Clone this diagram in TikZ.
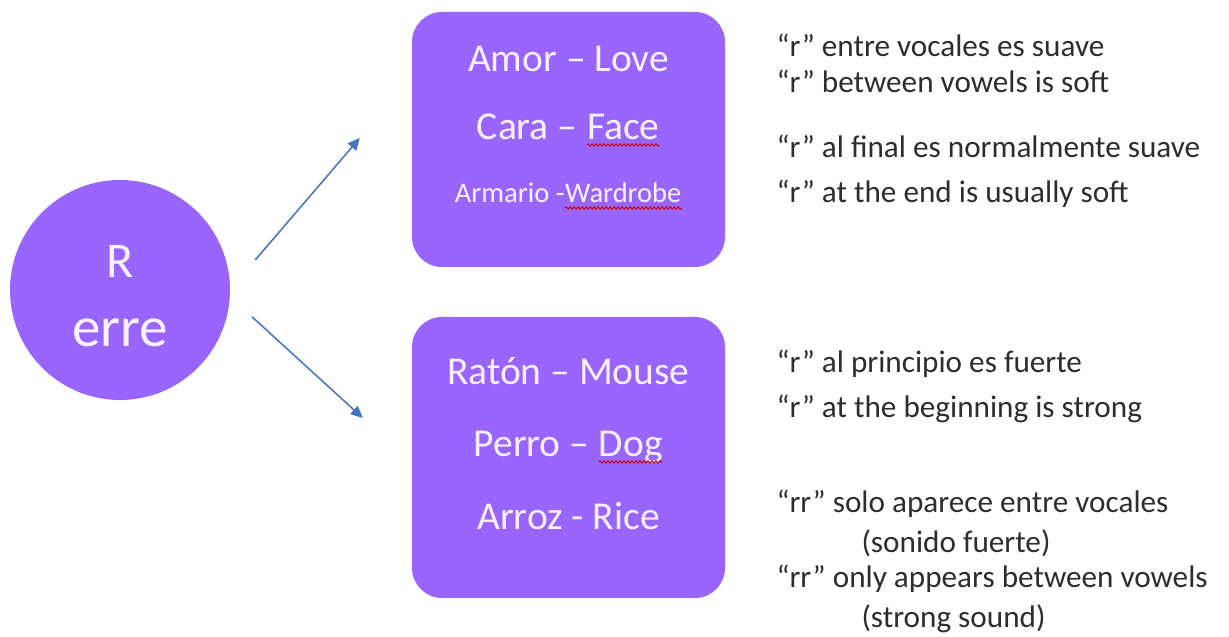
\documentclass[tikz,border=0pt]{standalone}
\usepackage{fontspec}
\setmainfont{Carlito}
\usetikzlibrary{arrows.meta,
                calc,
                decorations.pathmorphing,
                positioning}
\definecolor{lila}{RGB}{152,102,255}
\definecolor{flecha}{RGB}{68,114,196}
\definecolor{texto}{RGB}{45,45,45}
\definecolor{blanco}{RGB}{250,240,255}
% red wavy line, as a spell checker draws it
\newcommand\corrector[2]{\tikz[baseline=0pt]{\node[anchor=base, inner sep=0pt](#1){#2};
	\draw[red!80!black, line width=0.9pt, decorate, decoration={snake, amplitude=1.2pt, segment length=4pt}]
	([yshift=-5pt]#1.base west) -- ([yshift=-5pt]#1.base east);}}
\tikzset{
	%Define standard arrow tip
	>=Stealth,
	%Define style for boxes
	caja/.style={
	       rectangle,
	       rounded corners=30pt,
	       fill=lila,
	       minimum width=313pt,
	       minimum height=255pt},
	bola/.style={
	       circle,
	       fill=lila,
	       minimum size=220pt},
	palabra/.style={
	       anchor=base,
	       text=blanco,
	       font=\fontsize{39.5}{44}\selectfont},
	nota/.style={
	       anchor=base west,
	       text=texto,
	       font=\fontsize{31.2}{36}\selectfont},
	% Define arrow style
	pil/.style={
	       -{Triangle[length=12pt,width=11pt]},
	       line width=1.5pt,
	       draw=flecha}
}

\begin{document}
\begin{tikzpicture}[x=1pt, y=1pt]
		\useasboundingbox (0,0) rectangle (1229,637);
		% the letter
		\node[bola](erre) at (120,347){};
		\node[palabra, font=\fontsize{50}{56}\selectfont] (letra) at (120,359) {R};
		\node[palabra, font=\fontsize{57}{60}\selectfont] (nombre) at (120,290) {erre};
		% soft r
		\node[caja](suave) at (568.5,497.5){};
		\node[palabra](amor) at (568.5,565){Amor -- Love};
		\node[palabra](cara) at (568.5,497){Cara -- \corrector{face}{Face}};
		\node[palabra, font=\fontsize{28.5}{32}\selectfont](armario) at (568.5,434){Armario -\corrector{wardrobe}{Wardrobe}};
		% strong r
		\node[caja, minimum height=281pt](fuerte) at (568.5,179.5){};
		\node[palabra](raton) at (568.5,252){Ratón -- Mouse};
		\node[palabra](perro) at (568.5,180){Perro -- \corrector{dog}{Dog}};
		\node[palabra](arroz) at (568.5,107){Arroz - Rice};
		\draw[pil] ($(erre.east)+(25,30)$) -- ($(suave.west)+(-52,1.5)$);
		\draw[pil] ($(erre.east)+(22,-27)$) -- ($(fuerte.west)+(-49,39.5)$);
		% notes
		\node[nota](n1) at (773,580){“r” entre vocales es suave};
		\node[nota](n2) at (773,544){“r” between vowels is soft};
		\node[nota](n3) at (773,479){“r” al final es normalmente suave};
		\node[nota](n4) at (773,434){“r” at the end is usually soft};
		\node[nota](n5) at (773,264){“r” al principio es fuerte};
		\node[nota](n6) at (773,219){“r” at the beginning is strong};
		\node[nota](n7) at (773,124){“rr” solo aparece entre vocales};
		\node[nota](n8) at (858,84){(sonido fuerte)};
		\node[nota](n9) at (773,49){“rr” only appears between vowels};
		\node[nota](n10) at (858,9){(strong sound)};
\end{tikzpicture}
\end{document}
